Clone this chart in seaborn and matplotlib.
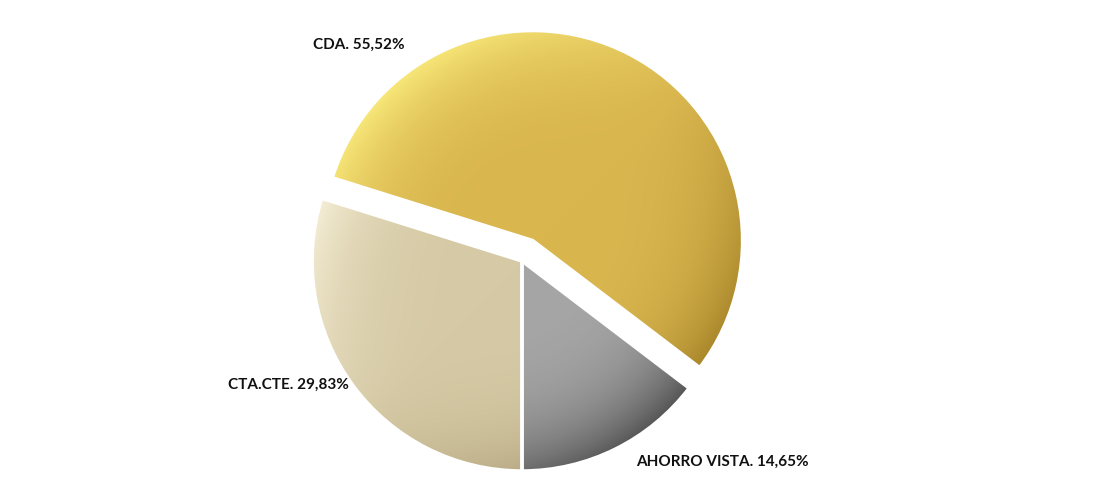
import numpy as np
import matplotlib
matplotlib.use('Agg')
import matplotlib.pyplot as plt
from matplotlib.colors import LinearSegmentedColormap
import seaborn as sns

# data (order = counterclockwise from the bottom)
categories = ['AHORRO VISTA', 'CDA', 'CTA.CTE.']
shares = [14.65, 55.52, 29.83]
label_texts = ['AHORRO VISTA. 14,65%', 'CDA. 55,52%', 'CTA.CTE. 29,83%']
label_pos = [(0.545, -0.952), (-0.995, 1.033), (-1.40, -0.586)]
base_colors = ['#a6a6a6', '#d9b64e', '#d6caa6']
light_colors = ['#c4c4c4', '#f8e87a', '#f9f3dc']
dark_colors = ['#555555', '#a8862a', '#ad9f78']
explode = [0, 0.11, 0]

sns.set_theme(style='white')
plt.rcParams['font.family'] = ['Lato', 'DejaVu Sans']

fig = plt.figure(figsize=(11.06, 5.02), dpi=100)
ax = fig.add_axes([0, 0, 1, 1])
wedges, _ = ax.pie(shares, startangle=270, counterclock=True, explode=explode,
                   radius=1, colors=base_colors,
                   wedgeprops=dict(edgecolor='white', linewidth=2.5))

# rim shading: light on the upper-left edge, dark on the lower-right edge
g = np.linspace(-1, 1, 500)
gx, gy = np.meshgrid(g, g)
r = np.sqrt(gx**2 + gy**2)
d = (-gx + gy) / np.sqrt(2)
t = np.clip(d * np.clip(r, 0, 1) ** 3, -1, 1)
v = (t + 1) / 2

for w, base, lt, dk in zip(wedges, base_colors, light_colors, dark_colors):
    cmap = LinearSegmentedColormap.from_list('sh', [(0, dk), (0.5, base), (1.0, lt)])
    cx, cy = w.center
    im = ax.imshow(cmap(v), extent=[cx - 1, cx + 1, cy - 1, cy + 1],
                   origin='lower', interpolation='bilinear', zorder=1.5)
    im.set_clip_path(w)
    w.set_facecolor('none')
    w.set_zorder(2)

for txt, (x, y) in zip(label_texts, label_pos):
    ax.text(x, y, txt, ha='left', va='center', fontsize=11,
            fontweight='bold', color='#111111')

ax.set_xlim(-2.486, 2.781)
ax.set_ylim(-1.143, 1.248)
ax.set_aspect('equal')
ax.axis('off')
fig.savefig('out.png', dpi=100)
